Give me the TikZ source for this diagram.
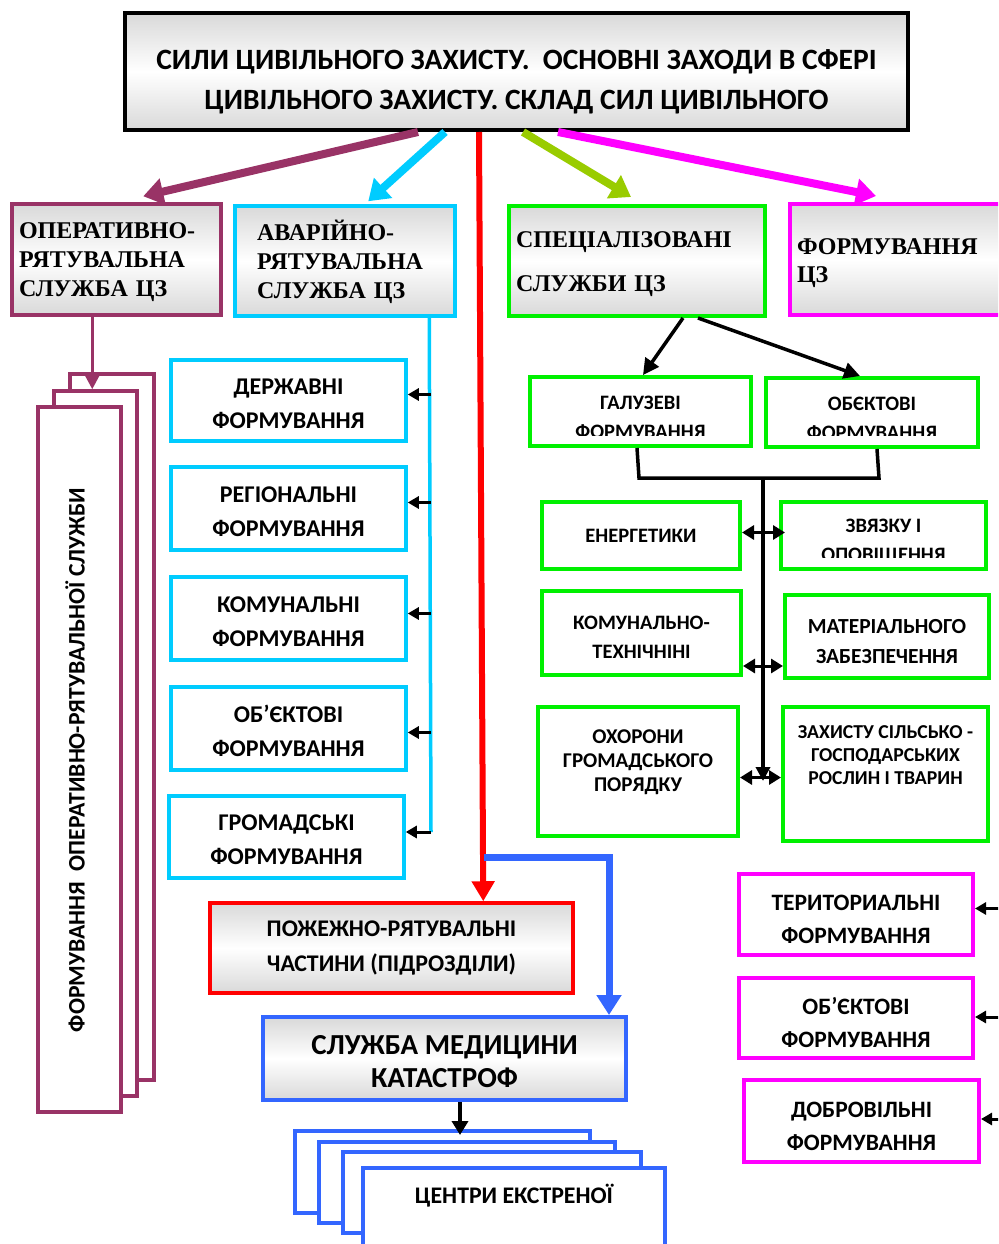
\documentclass[tikz,border=0pt]{standalone}
\usepackage{fontspec}
\setmainfont{Carlito}
\newfontfamily\serifb{Liberation Serif}
\usetikzlibrary{arrows.meta}
\newcommand{\mystrut}[1]{\rule{0pt}{#1}}
\definecolor{purp}{HTML}{993366}
\definecolor{cyanc}{HTML}{00CCFF}
\definecolor{redc}{HTML}{FF0000}
\definecolor{ygreen}{HTML}{99CC00}
\definecolor{magc}{HTML}{FF00FF}
\definecolor{greenc}{HTML}{00F000}
\definecolor{bluec}{HTML}{3366FF}
\begin{document}
\begin{tikzpicture}[x=1pt,y=-1pt,
  grad/.style={top color=gray!30, bottom color=gray!30, middle color=white},
  bx/.style={rectangle, inner sep=0pt, align=center},
  fs/.style 2 args={font=\bfseries\fontsize{#1}{#2}\selectfont},
  serif/.style 2 args={font=\serifb\bfseries\fontsize{#1}{#2}\selectfont},
  cbox/.style={bx, draw=cyanc, line width=3.5, fill=white, minimum width=235, fs={24}{34}},
  gbox/.style={bx, draw=greenc, line width=4, fill=white, fs={20.5}{29}},
  mbox/.style={bx, draw=magc, line width=4, fill=white, fs={23.5}{33}},
  big/.style={line width=#1},
  tipA/.style={-{Triangle[width=26pt,length=20pt]}},
  barrow/.style={black, line width=3, -{Triangle[width=12pt,length=11pt]}},
  darrow/.style={black, line width=3, {Triangle[width=14pt,length=12pt]}-{Triangle[width=14pt,length=12pt]}},
]
\useasboundingbox (0,0) rectangle (998,1244);
\clip (0,0) rectangle (998,1244);
\fill[white] (0,0) rectangle (998,1244);

% title
\node[bx, draw=black, line width=4, grad, minimum width=783, minimum height=117] (title) at (516.5,71.5) {};
\node[fs={29.5}{40}, align=center] (titlet) at (516.5,82)
  {СИЛИ ЦИВІЛЬНОГО ЗАХИСТУ.\ \ ОСНОВНІ ЗАХОДИ В СФЕРІ\\ЦИВІЛЬНОГО ЗАХИСТУ. СКЛАД СИЛ ЦИВІЛЬНОГО};

% first row
\node[bx, draw=purp, line width=3.5, grad, minimum width=209, minimum height=111, text width=195, align=left, serif={24}{29}] (ors) at (116.5,259.5)
  {\mystrut{22pt}ОПЕРАТИВНО-\\РЯТУВАЛЬНА\\СЛУЖБА ЦЗ};
\node[bx, draw=cyanc, line width=3.5, grad, minimum width=220, minimum height=110, text width=176, align=left, serif={24}{29}] (avr) at (345,261)
  {\mystrut{22pt}АВАРІЙНО-\\РЯТУВАЛЬНА\\СЛУЖБА ЦЗ};
\node[bx, draw=greenc, line width=4, grad, minimum width=256, minimum height=110, text width=242, align=left, serif={24}{44}] (spec) at (637,261)
  {\mystrut{22pt}СПЕЦІАЛІЗОВАНІ\\СЛУЖБИ ЦЗ};
\node[bx, draw=magc, line width=4, grad, minimum width=220, minimum height=111, text width=206, align=left, serif={24}{28}] (fcz) at (900,259.5)
  {\mystrut{24pt}ФОРМУВАННЯ\\ЦЗ};

% arrows from title
\draw[purp, big=8, tipA] ([xshift=295pt]title.south west) -- ([xshift=133pt,yshift=6pt]ors.north west);
\draw[cyanc, big=8, tipA] ([xshift=322pt]title.south west) -- ([xshift=135pt,yshift=3pt]avr.north west);
\draw[ygreen, big=8, tipA] ([xshift=400pt]title.south west) -- ([xshift=124pt,yshift=7pt]spec.north west);
\draw[magc, big=8, tipA] ([xshift=435pt]title.south west) -- ([xshift=88pt,yshift=6pt]fcz.north west);

% left stack
\node[bx, draw=purp, line width=3.5, fill=white, minimum width=84, minimum height=706] (st1) at (112,727) {};
\node[bx, draw=purp, line width=3.5, fill=white, minimum width=83, minimum height=705] (st2) at (95.5,743.5) {};
\node[bx, draw=purp, line width=3.5, fill=white, minimum width=83, minimum height=705] (st3) at (79.5,759.5) {};
\node[rotate=90, fs={23.7}{25}] (st3t) at (75,760) {ФОРМУВАННЯ\ \ ОПЕРАТИВНО-РЯТУВАЛЬНОЇ СЛУЖБИ};
\draw[purp, line width=3, -{Triangle[width=14pt,length=14pt]}] ([xshift=82pt]ors.south west) -- ([xshift=40pt]st2.north west);

% cyan column
\node[cbox, minimum height=81] (d1) at (288.5,400.5) {\mystrut{22pt}ДЕРЖАВНІ\\ФОРМУВАННЯ};
\node[cbox, minimum height=83] (d2) at (288.5,508.5) {\mystrut{22pt}РЕГІОНАЛЬНІ\\ФОРМУВАННЯ};
\node[cbox, minimum height=83] (d3) at (288.5,618.5) {\mystrut{22pt}КОМУНАЛЬНІ\\ФОРМУВАННЯ};
\node[cbox, minimum height=83] (d4) at (288.5,728.5) {\mystrut{22pt}ОБ’ЄКТОВІ\\ФОРМУВАННЯ};
\node[cbox, minimum height=82] (d5) at (286.5,837) {\mystrut{22pt}ГРОМАДСЬКІ\\ФОРМУВАННЯ};
\coordinate (cb) at (431,832);
\draw[cyanc, line width=3.5] ([xshift=196pt]avr.south west) -- (cb);
\draw[barrow] ([yshift=6pt]d1.east -| cb) -- ([yshift=6pt]d1.east);
\draw[barrow] ([yshift=6pt]d2.east -| cb) -- ([yshift=6pt]d2.east);
\draw[barrow] ([yshift=5pt]d3.east -| cb) -- ([yshift=5pt]d3.east);
\draw[barrow] ([yshift=-4pt]d4.east -| cb) -- ([yshift=-4pt]d4.east);
\draw[barrow] ([yshift=5pt]d5.east -| cb) -- ([yshift=5pt]d5.east);

% red
\node[bx, draw=redc, line width=3.5, grad, minimum width=363, minimum height=90, fs={23.9}{35}] (red) at (391.5,948)
  {ПОЖЕЖНО-РЯТУВАЛЬНІ\\ЧАСТИНИ (ПІДРОЗДІЛИ)};
\draw[redc, big=6, -{Triangle[width=22pt,length=20pt]}] ([xshift=356pt]title.south west) -- ([xshift=275pt]red.north west);

% medicine
\node[bx, draw=bluec, line width=4, grad, minimum width=363, minimum height=83, fs={29}{33}] (smk) at (444.5,1058.5)
  {\mystrut{25pt}СЛУЖБА МЕДИЦИНИ\\КАТАСТРОФ};
\coordinate (rb) at (484,857);
\draw[bluec, big=7, -{Triangle[width=24pt,length=20pt]}] (rb) -| ([xshift=348pt]smk.north west);

% bottom stack
\node[bx, draw=bluec, line width=4, fill=white, minimum width=295, minimum height=82] (c1) at (442.5,1172) {};
\node[bx, draw=bluec, line width=4, fill=white, minimum width=296, minimum height=81] (c2) at (467,1182.5) {};
\node[bx, draw=bluec, line width=4, fill=white, minimum width=298, minimum height=81] (c3) at (492,1192.5) {};
\node[bx, draw=bluec, line width=4, fill=white, minimum width=302, minimum height=92] (c4) at (514,1214) {};
\node[fs={23.8}{25}] (c4t) at (514,1196) {ЦЕНТРИ ЕКСТРЕНОЇ};
\draw[black, line width=4, -{Triangle[width=16pt,length=14pt]}] ([xshift=199pt]smk.south west) -- ([xshift=167pt,yshift=-6pt]c1.north west);

% specialised services
\node[bx, draw=greenc, line width=4, fill=white, minimum width=221, minimum height=69] (gal) at (640.5,411.5) {};
\node[bx, draw=greenc, line width=4, fill=white, minimum width=212, minimum height=69] (obj) at (872,412.5) {};
\begin{scope}
  \clip (530,377) rectangle (978,435.5);
  \node[fs={20.5}{29}, align=center] (galt) at (640.5,417) {ГАЛУЗЕВІ\\ФОРМУВАННЯ};
  \node[fs={20.5}{29}, align=center] (objt) at (872,418) {ОБЄКТОВІ\\ФОРМУВАННЯ};
\end{scope}
\draw[black, line width=3.5, -{Triangle[width=16pt,length=16pt]}] ([xshift=176pt]spec.south west) -- ([xshift=115pt]gal.north west);
\draw[black, line width=3.5, -{Triangle[width=16pt,length=16pt]}] ([xshift=191pt]spec.south west) -- ([xshift=96pt]obj.north west);

\coordinate (jl) at (639,478);
\coordinate (jr) at (879,478);
\coordinate (jn) at (763,478);
\coordinate (jb) at (763,781);
\draw[black, line width=3.5] ([xshift=109pt]gal.south west) -- (jl) -- (jr) -- ([xshift=113pt]obj.south west);
\draw[black, line width=3.5, -{Triangle[width=14pt,length=14pt]}] (jn) -- (jb);

\node[gbox, minimum width=198, minimum height=67] (ener) at (641,535.5) {ЕНЕРГЕТИКИ};
\node[gbox, minimum width=205, minimum height=67] (zv) at (883.5,535.5) {};
\begin{scope}
  \clip (781,502) rectangle (986,557);
  \node[fs={20.5}{29}, align=center] (zvt) at (883.5,542) {ЗВЯЗКУ І\\ОПОВІЩЕННЯ};
\end{scope}
\node[gbox, minimum width=199, minimum height=84] (kt) at (641.5,633) {\mystrut{21pt}КОМУНАЛЬНО-\\ТЕХНІЧНІНІ};
\node[gbox, minimum width=204, minimum height=83, fs={21.5}{30}] (mat) at (887,636.5) {\mystrut{24pt}МАТЕРІАЛЬНОГО\\ЗАБЕЗПЕЧЕННЯ};
\node[gbox, minimum width=200, minimum height=129] (ohr) at (638,771.5) {};
\node[fs={21}{24}, align=center] (ohrt) at (638,762) {ОХОРОНИ\\ГРОМАДСЬКОГО\\ПОРЯДКУ};
\node[gbox, minimum width=205, minimum height=134] (zah) at (885.5,774) {};
\node[fs={19.7}{23}, align=center] (zaht) at (885.5,755) {ЗАХИСТУ СІЛЬСЬКО -\\ГОСПОДАРСЬКИХ\\РОСЛИН І ТВАРИН};

\draw[darrow] ([yshift=3pt]ener.east) -- ([yshift=3pt,xshift=6pt]ener.east -| zv.west);
\draw[darrow] ([yshift=-33pt]kt.east) -- ([yshift=-33pt]kt.east -| mat.west);
\draw[darrow] ([yshift=-6pt]ohr.east) -- ([yshift=-6pt]ohr.east -| zah.west);

% magenta formations
\node[mbox, minimum width=234, minimum height=81] (ter) at (856,914.5) {\mystrut{25.5pt}ТЕРИТОРИАЛЬНІ\\ФОРМУВАННЯ};
\node[mbox, minimum width=234, minimum height=80] (obm) at (856,1018) {\mystrut{25.5pt}ОБ’ЄКТОВІ\\ФОРМУВАННЯ};
\node[mbox, minimum width=235, minimum height=82] (dob) at (861.5,1121) {\mystrut{25.5pt}ДОБРОВІЛЬНІ\\ФОРМУВАННЯ};
\draw[barrow] ([xshift=40pt,yshift=6pt]ter.east) -- ([yshift=6pt]ter.east);
\draw[barrow] ([xshift=40pt,yshift=1pt]obm.east) -- ([yshift=1pt]obm.east);
\draw[barrow] ([xshift=40pt,yshift=2pt]dob.east) -- ([yshift=2pt]dob.east);
\end{tikzpicture}
\end{document}
